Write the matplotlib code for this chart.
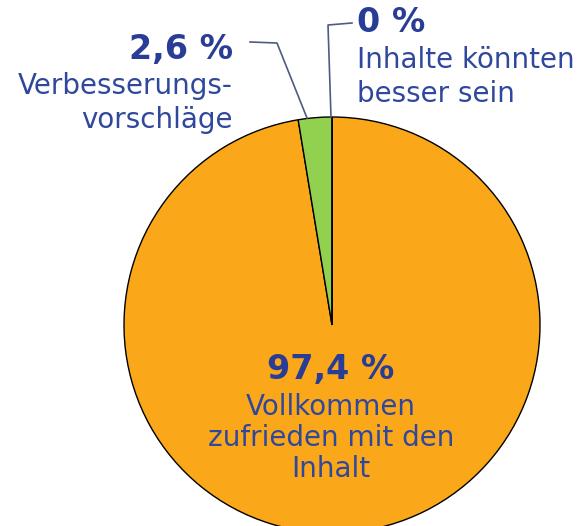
import numpy as np
import matplotlib.pyplot as plt

# shares of answers (percent)
values = [97.4, 2.6, 0.0]
pct_labels = ["97,4 %", "2,6 %", "0 %"]
descriptions = [
    ["Vollkommen", "zufrieden mit den", "Inhalt"],
    ["Verbesserungs-", "vorschläge"],
    ["Inhalte könnten", "besser sein"],
]
colors = ["#FAA819", "#92D050", "#C00000"]

W, H = 586, 526
navy = "#2A3D96"
textblue = "#30489C"
linecol = "#4D5C82"

fig = plt.figure(figsize=(W / 100, H / 100), dpi=100)
ax = fig.add_axes([0, 0, 1, 1])

def py(y):
    # pixel row -> data y
    return H - y

ax.pie(values, colors=colors, startangle=90, counterclock=False,
       center=(332, py(325)), radius=208, frame=True,
       wedgeprops=dict(edgecolor="black", linewidth=1.0))

ax.set_xlim(0, W)
ax.set_ylim(0, H)
ax.set_aspect("equal")
ax.set_axis_off()

big = 24
small = 20

# big slice label (inside)
ax.text(331, py(370), pct_labels[0], ha="center", va="center",
        fontsize=big, fontweight="bold", color=navy)
for i, line in enumerate(descriptions[0]):
    ax.text(331, py(407 + 31 * i), line, ha="center", va="center",
            fontsize=small, color=textblue)

# 2,6 % label (left, right-aligned)
ax.text(233, py(50), pct_labels[1], ha="right", va="center",
        fontsize=big, fontweight="bold", color=navy)
for i, line in enumerate(descriptions[1]):
    ax.text(233, py(86 + 34 * i), line, ha="right", va="center",
            fontsize=small, color=textblue)

# 0 % label (right, left-aligned)
ax.text(357, py(22), pct_labels[2], ha="left", va="center",
        fontsize=big, fontweight="bold", color=navy)
for i, line in enumerate(descriptions[2]):
    ax.text(357, py(60 + 34 * i), line, ha="left", va="center",
            fontsize=small, color=textblue)

# leader lines
ax.plot([250, 277, 307], [py(42), py(43), py(118)], color=linecol, lw=1.2)
ax.plot([352, 328, 331], [py(23), py(25), py(117)], color=linecol, lw=1.2)

fig.savefig("out.png", dpi=100)
